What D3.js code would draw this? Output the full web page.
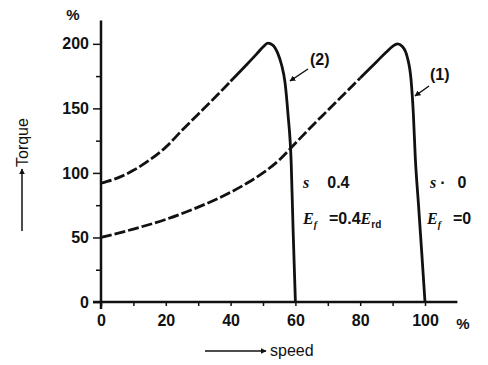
<!DOCTYPE html>
<html>
<head>
<meta charset="utf-8">
<script src="https://cdn.jsdelivr.net/npm/d3@7"></script>
<style>
  body { margin: 0; background: #fff; }
  svg { display: block; }
  text { font-family: "Liberation Sans", Arial, sans-serif; fill: #111; }
</style>
</head>
<body>
<div id="chart"></div>
<script>
// data (speed %, torque %)
const curve2Speed  = [0, 5, 10, 15, 20, 25, 30, 35, 40, 45, 48, 50, 51.5, 53, 54.5, 55.7, 56.8, 57.7, 58.7, 59.3, 60];
const curve2Torque = [92, 96, 102, 110, 120, 133, 145.5, 158, 171, 184, 192, 197.5, 200.5, 199, 193, 184, 170, 146, 108, 55, 0];
const curve1Speed  = [0, 10, 20, 30, 40, 45, 50, 55, 60, 65, 70, 75, 80, 85, 88, 90, 91.5, 93, 94.5, 95.7, 96.4, 97, 98, 99, 100];
const curve1Torque = [50, 56.5, 64, 73.5, 85, 92, 100, 110, 123, 136, 148.5, 161, 173.5, 186, 193.5, 198, 200, 198, 190, 172, 146, 112, 75, 38, 0];
const xTicks = [0, 10, 20, 30, 40, 50, 60, 70, 80, 90, 100];
const yTicks = [0, 25, 50, 75, 100, 125, 150, 175, 200];

const width = 488, height = 365;
const svg = d3.select("#chart").append("svg")
  .attr("width", width)
  .attr("height", height);

const x = d3.scaleLinear().domain([0, 110]).range([101, 457.4]);
const y = d3.scaleLinear().domain([0, 218]).range([302, 20.6]);

const ink = "#111";

// axes
const xAxis = d3.axisBottom(x)
  .tickValues(xTicks)
  .tickSize(4)
  .tickFormat(d => d % 20 === 0 ? d : "");
const gx = svg.append("g").attr("transform", `translate(0,${y(0)})`).call(xAxis);
gx.select(".domain").remove();
gx.selectAll(".tick line").attr("stroke", ink).attr("stroke-width", 1.5);
gx.selectAll(".tick text")
  .attr("y", 13)
  .style("font-size", "16px").style("font-weight", "bold").attr("fill", ink);

const yAxis = d3.axisLeft(y)
  .tickValues(yTicks)
  .tickSize(0)
  .tickFormat(d => d % 50 === 0 ? d : "");
const gy = svg.append("g").attr("transform", `translate(${x(0)},0)`).call(yAxis);
gy.select(".domain").remove();
gy.selectAll(".tick line")
  .attr("x2", d => d % 50 === 0 ? -8 : -5)
  .attr("stroke", ink).attr("stroke-width", 1.5);
gy.selectAll(".tick text")
  .attr("x", -12)
  .style("font-size", "16px").style("font-weight", "bold").attr("fill", ink);

svg.append("line")
  .attr("x1", x(0) - 8).attr("x2", x(110))
  .attr("y1", y(0)).attr("y2", y(0))
  .attr("stroke", ink).attr("stroke-width", 2.5);
svg.append("line")
  .attr("x1", x(0)).attr("x2", x(0))
  .attr("y1", y(0) + 7).attr("y2", y(218))
  .attr("stroke", ink).attr("stroke-width", 2.5);

// unit labels
svg.append("text").text("%")
  .attr("x", 73).attr("y", 20).attr("text-anchor", "middle")
  .style("font-size", "15px").style("font-weight", "bold");
svg.append("text").text("%")
  .attr("x", 463).attr("y", 329).attr("text-anchor", "middle")
  .style("font-size", "15px").style("font-weight", "bold");

// arrow marker
svg.append("defs").append("marker")
  .attr("id", "head")
  .attr("viewBox", "0 0 10 10")
  .attr("refX", 9).attr("refY", 5)
  .attr("markerWidth", 6).attr("markerHeight", 6)
  .attr("markerUnits", "userSpaceOnUse")
  .attr("orient", "auto")
  .append("path").attr("d", "M0,0 L10,5 L0,10 z").attr("fill", ink);

// axis titles
svg.append("line")
  .attr("x1", 205).attr("x2", 266).attr("y1", 351).attr("y2", 351)
  .attr("stroke", ink).attr("stroke-width", 1.5)
  .attr("marker-end", "url(#head)");
svg.append("text").text("speed")
  .attr("x", 270).attr("y", 356)
  .style("font-size", "16px");

svg.append("line")
  .attr("x1", 22).attr("x2", 22).attr("y1", 231).attr("y2", 169)
  .attr("stroke", ink).attr("stroke-width", 1.5)
  .attr("marker-end", "url(#head)");
svg.append("text").text("Torque")
  .attr("transform", "translate(28,167) rotate(-90)")
  .style("font-size", "16px");

// curves
const line = d3.line()
  .x(d => x(d[0]))
  .y(d => y(d[1]))
  .curve(d3.curveMonotoneX);

const drawCurve = (speed, torque, cut) => {
  const pts = speed.map((s, i) => [s, torque[i]]);
  svg.append("path")
    .datum(pts.filter(d => d[0] <= cut))
    .attr("d", line)
    .attr("fill", "none")
    .attr("stroke", ink)
    .attr("stroke-width", 2.8)
    .attr("stroke-dasharray", "11 3");
  svg.append("path")
    .datum(pts.filter(d => d[0] >= cut))
    .attr("d", line)
    .attr("fill", "none")
    .attr("stroke", ink)
    .attr("stroke-width", 2.8);
};
drawCurve(curve2Speed, curve2Torque, 40);
drawCurve(curve1Speed, curve1Torque, 80);

// curve labels with pointers
svg.append("text").text("(2)")
  .attr("x", 310).attr("y", 65)
  .style("font-size", "16px").style("font-weight", "bold");
svg.append("line")
  .attr("x1", 308).attr("y1", 69).attr("x2", 290).attr("y2", 81)
  .attr("stroke", ink).attr("stroke-width", 1.5)
  .attr("marker-end", "url(#head)");
svg.append("text").text("(1)")
  .attr("x", 430).attr("y", 80)
  .style("font-size", "16px").style("font-weight", "bold");
svg.append("line")
  .attr("x1", 429).attr("y1", 86).attr("x2", 415).attr("y2", 96)
  .attr("stroke", ink).attr("stroke-width", 1.5)
  .attr("marker-end", "url(#head)");

// condition notes
const note = (tx, ty, parts) => {
  const t = svg.append("text").attr("x", tx).attr("y", ty).style("font-size", "16px");
  parts.forEach(p => {
    const ts = t.append("tspan").text(p.t);
    if (p.it) ts.style("font-family", "'Liberation Serif', serif").style("font-style", "italic").style("font-weight", "bold");
    else ts.style("font-weight", "bold");
    if (p.sub) ts.attr("baseline-shift", "-4").style("font-size", "10px");
    if (p.dx) ts.attr("dx", p.dx);
  });
};
note(303, 188, [{t: "s", it: true}, {t: "0.4", dx: 18}]);
note(430, 188, [{t: "s", it: true}, {t: "·", dx: 4}, {t: "0", dx: 12}]);
note(303, 224, [{t: "E", it: true}, {t: "f", it: true, sub: true}, {t: "=0.4", dx: 12}, {t: "E", it: true}, {t: "rd", sub: true}]);
note(427, 224, [{t: "E", it: true}, {t: "f", it: true, sub: true}, {t: "=0", dx: 12}]);
</script>
</body>
</html>
